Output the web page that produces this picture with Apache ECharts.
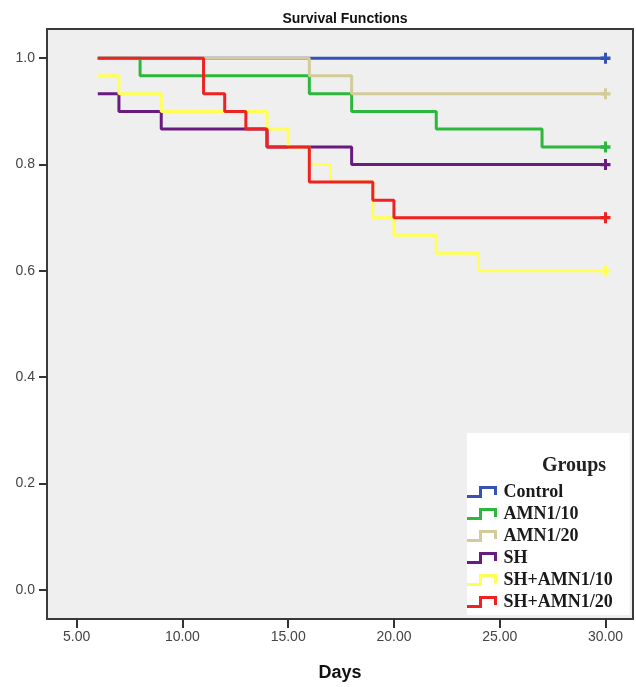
<!DOCTYPE html>
<html>
<head>
<meta charset="utf-8">
<script src="https://cdn.jsdelivr.net/npm/echarts@6/dist/echarts.min.js"></script>
<style>html,body{margin:0;padding:0;background:#fff}#c{width:636px;height:687px}</style>
</head>
<body>
<div id="c"></div>
<script>
// ---- data ----
const groupNames = ['Control', 'AMN1/10', 'AMN1/20', 'SH', 'SH+AMN1/10', 'SH+AMN1/20'];
const controlDays = [6, 30];
const controlSurv = [1.0, 1.0];
const amn10Days = [6, 8, 16, 18, 22, 27, 30];
const amn10Surv = [1.0, 0.967, 0.933, 0.9, 0.867, 0.833, 0.833];
const amn20Days = [6, 16, 18, 30];
const amn20Surv = [1.0, 0.967, 0.933, 0.933];
const shDays = [6, 7, 9, 14, 18, 30];
const shSurv = [0.933, 0.9, 0.867, 0.833, 0.8, 0.8];
const shAmn10Days = [6, 7, 9, 14, 15, 16, 17, 19, 20, 22, 24, 30];
const shAmn10Surv = [0.967, 0.933, 0.9, 0.867, 0.833, 0.8, 0.767, 0.7, 0.667, 0.633, 0.6, 0.6];
const shAmn20Days = [6, 11, 12, 13, 14, 16, 19, 20, 30];
const shAmn20Surv = [1.0, 0.933, 0.9, 0.867, 0.833, 0.767, 0.733, 0.7, 0.7];
const xTicks = [5, 10, 15, 20, 25, 30];
const yTicks = [0, 0.2, 0.4, 0.6, 0.8, 1.0];

const colors = ['#3552b5', '#2cb83c', '#d3cb9a', '#6a1b80', '#ffff55', '#ef2222'];
const daysList = [controlDays, amn10Days, amn20Days, shDays, shAmn10Days, shAmn20Days];
const survList = [controlSurv, amn10Surv, amn20Surv, shSurv, shAmn10Surv, shAmn20Surv];

const plusPath = 'path://M3.5,0H6.5V3.5H10V6.5H6.5V10H3.5V6.5H0V3.5H3.5Z';
const stepIcon = 'path://M0,9H12V0H30V9H27V3H15V12H0Z';

const series = groupNames.map((name, i) => {
  const d = daysList[i], s = survList[i];
  return {
    name: name,
    type: 'line',
    step: 'end',
    symbol: plusPath,
    symbolSize: [10, 11],
    showSymbol: true,
    showAllSymbol: true,
    animation: false,
    color: colors[i],
    lineStyle: { width: 3, color: colors[i] },
    itemStyle: { color: colors[i] },
    data: d.map((x, k) => k === d.length - 1
      ? { value: [x, s[k]] }
      : { value: [x, s[k]], symbol: 'none' }),
    z: 2 + i
  };
});

const chart = echarts.init(document.getElementById('c'), null, { renderer: 'canvas' });
chart.setOption({
  animation: false,
  backgroundColor: '#ffffff',
  title: [
    {
      text: 'Survival Functions',
      left: 340, top: 7,
      textAlign: 'center',
      textStyle: { fontFamily: "'Liberation Sans Narrow','Liberation Sans',Arial,sans-serif", fontWeight: 'bold', fontSize: 14, color: '#111' }
    },
    {
      text: 'Groups',
      left: 569, top: 451,
      textAlign: 'center',
      z: 10,
      textStyle: { fontFamily: "'Liberation Serif','Times New Roman',serif", fontWeight: 'bold', fontSize: 20, color: '#222' }
    }
  ],
  legend: {
    orient: 'vertical',
    left: 467, top: 433,
    padding: [49, 17, 3, 0],
    backgroundColor: '#ffffff',
    itemWidth: 33, itemHeight: 12, itemGap: 2,
    icon: stepIcon,
    data: groupNames,
    textStyle: { fontFamily: "'Liberation Serif','Times New Roman',serif", fontWeight: 'bold', fontSize: 18, lineHeight: 20, color: '#1a1a1a' }
  },
  grid: {
    left: 47, top: 29, right: 3, bottom: 67,
    show: true,
    backgroundColor: '#efefef',
    borderColor: '#3a3a3a',
    borderWidth: 2
  },
  xAxis: {
    type: 'value',
    min: 3.6, max: 31.3,
    name: 'Days',
    nameLocation: 'middle',
    nameGap: 45,
    nameTextStyle: { fontFamily: "'Liberation Sans',Arial,sans-serif", fontWeight: 'bold', fontSize: 18, color: '#111' },
    axisLine: { show: false, onZero: false },
    axisTick: { show: true, length: 9, lineStyle: { width: 2, color: '#333' }, customValues: xTicks },
    axisLabel: { margin: 11, fontFamily: "'Liberation Sans',Arial,sans-serif", fontSize: 14, color: '#444', customValues: xTicks, formatter: v => v.toFixed(2) },
    splitLine: { show: false }
  },
  yAxis: {
    type: 'value',
    min: -0.055, max: 1.055,
    axisLine: { show: false, onZero: false },
    axisTick: { show: true, length: 8, lineStyle: { width: 2, color: '#333' }, customValues: yTicks },
    axisLabel: { margin: 12, fontFamily: "'Liberation Sans',Arial,sans-serif", fontSize: 14, color: '#444', customValues: yTicks, formatter: v => v.toFixed(1) },
    splitLine: { show: false }
  },
  series: series
});
</script>
</body>
</html>
